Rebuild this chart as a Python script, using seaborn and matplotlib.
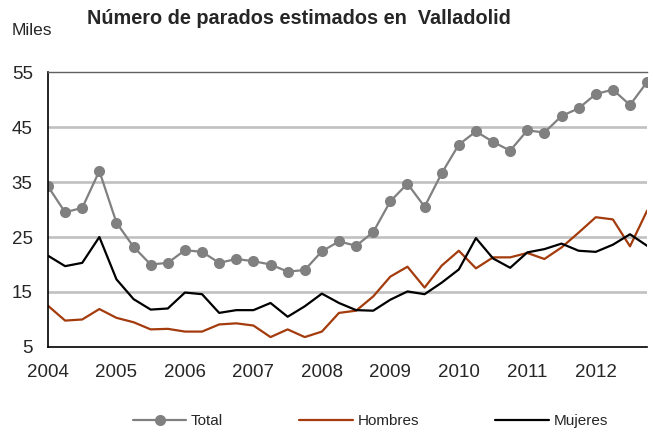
import numpy as np
import pandas as pd
import matplotlib
matplotlib.use("Agg")
import matplotlib.pyplot as plt
import seaborn as sns

# datos trimestrales 2004T1 - 2012T4 (miles)
anios = ["2004", "2005", "2006", "2007", "2008", "2009", "2010", "2011", "2012"]
total = [34.2, 29.5, 30.3, 37.0, 27.6, 23.2, 20.0, 20.3,
         22.6, 22.3, 20.3, 21.0, 20.6, 20.0, 18.7, 19.0,
         22.4, 24.2, 23.4, 25.9, 31.5, 34.7, 30.5, 36.6,
         41.8, 44.2, 42.3, 40.7, 44.4, 44.0, 47.0, 48.4,
         51.0, 51.8, 49.0, 53.2]
hombres = [12.5, 9.8, 10.0, 11.9, 10.3, 9.5, 8.2, 8.3,
           7.8, 7.8, 9.1, 9.3, 8.9, 6.8, 8.2, 6.8,
           7.8, 11.2, 11.6, 14.2, 17.8, 19.6, 15.8, 19.8,
           22.5, 19.3, 21.3, 21.3, 22.1, 21.0, 23.1, 25.8,
           28.6, 28.2, 23.3, 29.8]
mujeres = [21.6, 19.7, 20.3, 25.0, 17.3, 13.7, 11.8, 12.0,
           14.9, 14.6, 11.2, 11.7, 11.7, 13.0, 10.5, 12.4,
           14.7, 13.0, 11.7, 11.6, 13.6, 15.1, 14.6, 16.7,
           19.1, 24.8, 21.1, 19.4, 22.2, 22.8, 23.8, 22.5,
           22.3, 23.6, 25.5, 23.4]

trim = np.arange(len(total))
df = pd.DataFrame({"trim": trim, "Total": total, "Hombres": hombres, "Mujeres": mujeres})

sns.set_style("white")
plt.rcParams["font.family"] = ["Liberation Sans", "DejaVu Sans"]

fig = plt.figure(figsize=(6.53, 4.34), dpi=100)
ax = fig.add_axes([0.0735, 0.2005, 0.9175, 0.6335])

for y in [15, 25, 35, 45]:
    ax.axhline(y, color="#c0c0c0", lw=1.9, zorder=0)

sns.lineplot(data=df, x="trim", y="Total", ax=ax, color="#808080", lw=1.6,
             marker="o", markersize=8, markeredgewidth=0, label="Total")
sns.lineplot(data=df, x="trim", y="Hombres", ax=ax, color="#a33b0c", lw=1.6,
             label="Hombres")
sns.lineplot(data=df, x="trim", y="Mujeres", ax=ax, color="black", lw=1.6,
             label="Mujeres")

ax.set_xlim(0, len(total) - 1)
ax.set_ylim(5, 55)
ax.set_yticks([5, 15, 25, 35, 45, 55])
ax.tick_params(axis="y", length=0, pad=11, labelsize=13.5)
ax.set_xticks(trim, minor=True)
ax.set_xticks(trim[::4])
ax.set_xticklabels(anios)
ax.tick_params(axis="x", which="both", direction="in", length=5, width=0.8,
               color="#404040", labelsize=13.5, pad=12)
ax.set_xlabel("")
ax.set_ylabel("")

for s in ["left", "bottom"]:
    ax.spines[s].set_color("black")
    ax.spines[s].set_linewidth(1.2)
ax.spines["right"].set_visible(False)
ax.spines["top"].set_color("#606060")
ax.spines["top"].set_linewidth(1.0)

ax.get_legend().remove()
h, l = ax.get_legend_handles_labels()
fig.legend(h, l, loc="center", bbox_to_anchor=(0.567, 0.03), ncol=3, frameon=False,
           fontsize=11, handlelength=3.5, columnspacing=5.0, handletextpad=0.3)

fig.text(0.133, 0.958, "Número de parados estimados en  Valladolid",
         fontsize=14.3, fontweight="bold", va="center", ha="left")
fig.text(0.018, 0.93, "Miles", fontsize=12.5, va="center", ha="left")

fig.savefig("out.png", dpi=100)
